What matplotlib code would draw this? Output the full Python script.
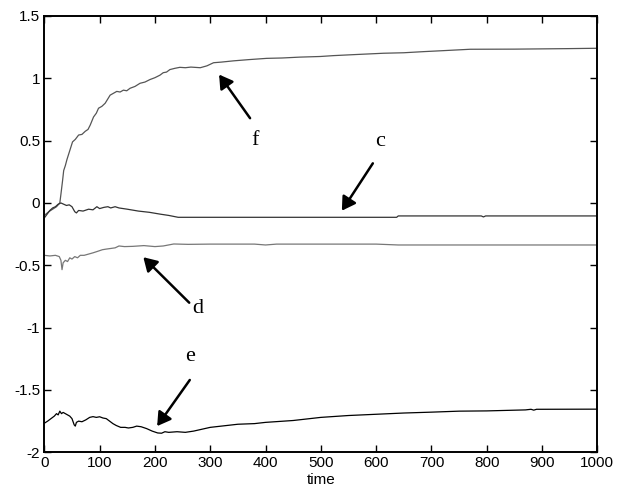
import numpy as np
import matplotlib
matplotlib.use("Agg")
from matplotlib import pyplot as plt

plt.rcParams['font.family'] = ['Liberation Sans', 'DejaVu Sans']
plt.rcParams['axes.unicode_minus'] = False

# curve f (rises to ~1.24)
f_t = [0, 8, 15, 22, 28, 30, 33, 35, 38, 41, 46, 51, 56, 62, 68, 74, 79, 83, 89, 94,
       98, 104, 110, 119, 125, 131, 137, 143, 149, 155, 164, 173, 182, 191, 200, 209,
       215, 221, 227, 236, 245, 255, 265, 282, 294, 306, 320, 342, 370, 402, 430, 462,
       499, 523, 560, 613, 650, 686, 722, 770, 850, 945, 1000]
f_v = [-0.10, -0.07, -0.05, -0.03, 0.0, 0.07, 0.18, 0.26, 0.30, 0.35, 0.42, 0.49, 0.51,
       0.545, 0.55, 0.575, 0.59, 0.625, 0.69, 0.72, 0.76, 0.775, 0.80, 0.865, 0.88, 0.895,
       0.89, 0.905, 0.90, 0.92, 0.935, 0.96, 0.97, 0.99, 1.005, 1.025, 1.045, 1.05, 1.07,
       1.08, 1.088, 1.085, 1.09, 1.085, 1.10, 1.125, 1.13, 1.14, 1.15, 1.16, 1.163, 1.17,
       1.175, 1.182, 1.19, 1.201, 1.205, 1.214, 1.222, 1.233, 1.234, 1.238, 1.241]

# curve c (settles near -0.11)
c_t = [0, 5, 10, 15, 20, 25, 30, 35, 40, 45, 50, 55, 58, 62, 70, 80, 88, 95, 100, 108,
       115, 120, 128, 135, 150, 170, 190, 210, 225, 242, 400, 637, 640, 790, 794, 798, 1000]
c_v = [-0.12, -0.09, -0.06, -0.04, -0.03, -0.01, 0.0, -0.01, -0.02, -0.015, -0.03, -0.07,
       -0.08, -0.06, -0.065, -0.05, -0.055, -0.03, -0.045, -0.035, -0.03, -0.04, -0.03,
       -0.04, -0.05, -0.065, -0.075, -0.09, -0.10, -0.115, -0.115, -0.115, -0.104, -0.104,
       -0.112, -0.104, -0.104]

# curve d (settles near -0.33)
d_t = [0, 10, 20, 27, 30, 32, 34, 38, 42, 46, 50, 55, 60, 65, 72, 80, 88, 95, 105, 112,
       120, 128, 135, 145, 160, 180, 200, 215, 234, 260, 300, 380, 400, 420, 600, 640, 1000]
d_v = [-0.42, -0.425, -0.42, -0.43, -0.46, -0.535, -0.48, -0.46, -0.47, -0.44, -0.45,
       -0.43, -0.44, -0.42, -0.42, -0.41, -0.40, -0.39, -0.375, -0.37, -0.365, -0.36,
       -0.345, -0.35, -0.348, -0.342, -0.35, -0.345, -0.329, -0.332, -0.33, -0.33, -0.337,
       -0.33, -0.33, -0.337, -0.337]

# curve e (bottom, black)
e_t = [0, 6, 12, 18, 22, 25, 28, 31, 34, 38, 42, 46, 50, 54, 56, 58, 62, 68, 75, 82, 88,
       94, 100, 106, 112, 118, 124, 130, 138, 146, 152, 160, 167, 175, 185, 195, 205, 212,
       218, 225, 240, 255, 270, 285, 300, 320, 350, 380, 400, 450, 500, 550, 600, 650, 700,
       750, 800, 870, 880, 885, 890, 900, 1000]
e_v = [-1.767, -1.75, -1.73, -1.71, -1.69, -1.70, -1.67, -1.69, -1.68, -1.69, -1.70, -1.71,
       -1.73, -1.78, -1.79, -1.76, -1.75, -1.755, -1.74, -1.72, -1.714, -1.72, -1.715,
       -1.725, -1.73, -1.75, -1.77, -1.785, -1.80, -1.80, -1.805, -1.80, -1.79, -1.795,
       -1.81, -1.83, -1.845, -1.847, -1.835, -1.84, -1.835, -1.84, -1.83, -1.815, -1.80,
       -1.79, -1.775, -1.77, -1.76, -1.745, -1.72, -1.705, -1.695, -1.685, -1.678, -1.67,
       -1.668, -1.66, -1.655, -1.662, -1.655, -1.655, -1.654]

# label, text position, arrow tail, arrow head
labels = ['f', 'c', 'd', 'e']
label_pos = [(381, 0.505), (607, 0.49), (277, -0.845), (264, -1.233)]
arrow_tail = [(372, 0.68), (594, 0.318), (262, -0.80), (263, -1.42)]
arrow_head = [(316, 1.03), (538, -0.062), (179, -0.435), (204, -1.79)]

xticks = list(range(0, 1001, 100))
yticks = [-2, -1.5, -1, -0.5, 0, 0.5, 1, 1.5]
ytick_labels = ['-2', '-1.5', '-1', '-0.5', '0', '0.5', '1', '1.5']

fig = plt.figure(figsize=(6.2, 5.04), dpi=100)
ax = fig.add_axes([0.0715, 0.1026, 0.892, 0.8657])

ax.plot(f_t, f_v, color='#555555', lw=0.9)
ax.plot(c_t, c_v, color='#333333', lw=0.9)
ax.plot(d_t, d_v, color='#777777', lw=0.9)
ax.plot(e_t, e_v, color='#000000', lw=0.9)

for lab, pos, tail, head in zip(labels, label_pos, arrow_tail, arrow_head):
    ax.annotate('', xy=head, xytext=tail,
                arrowprops=dict(arrowstyle='-|>,head_length=0.5,head_width=0.3',
                                color='k', lw=1.8, mutation_scale=16,
                                shrinkA=0, shrinkB=0))
    ax.text(pos[0], pos[1], lab, ha='center', va='center', fontsize=16,
            family=['Liberation Serif', 'DejaVu Serif'])

ax.set_xlim(0, 1000)
ax.set_ylim(-2, 1.5)
ax.set_xticks(xticks)
ax.set_xticklabels([str(x) for x in xticks])
ax.set_yticks(yticks)
ax.set_yticklabels(ytick_labels)
ax.tick_params(direction='in', top=True, right=True, length=5, width=1,
               labelsize=11, pad=3)
for sp in ax.spines.values():
    sp.set_linewidth(1.4)
ax.set_xlabel('time', fontsize=11, labelpad=2)

plt.savefig('out.png', dpi=100)
